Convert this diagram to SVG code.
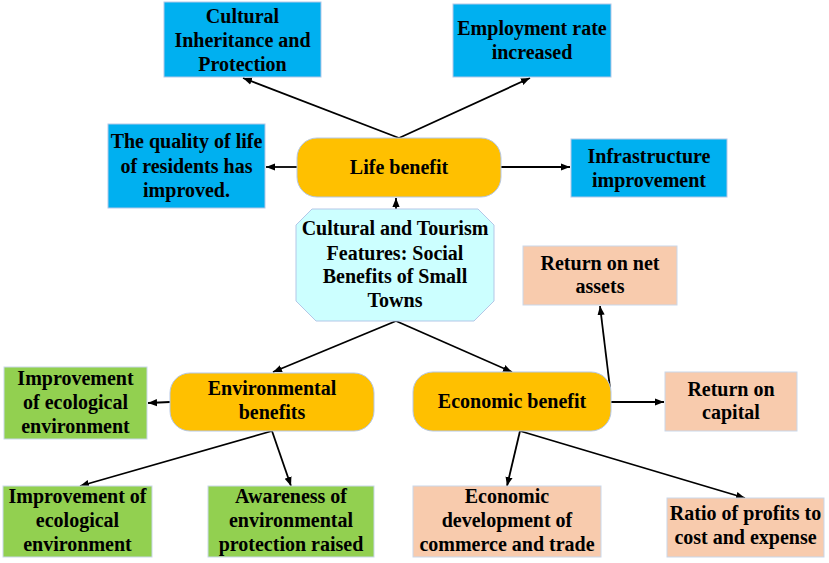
<svg xmlns="http://www.w3.org/2000/svg" width="829" height="563" viewBox="0 0 829 563">
<defs>
<style>
.t{font-family:"Liberation Serif","Times New Roman",serif;font-weight:bold;font-size:20px;fill:#000;text-anchor:middle}
.blue{fill:#00B0F0;stroke:#B4C7E7;stroke-width:1}
.gold{fill:#FFC000;stroke:#B4C7E7;stroke-width:1}
.cyan{fill:#CCFFFF;stroke:#B4C7E7;stroke-width:1}
.green{fill:#92D050;stroke:#C9D7EA;stroke-width:1}
.peach{fill:#F8CBAD;stroke:#C9D7EA;stroke-width:1}
.c{stroke:#000;stroke-width:1.8;fill:none;marker-end:url(#ah)}
</style>
<marker id="ah" viewBox="0 0 10 10" refX="10" refY="5" markerWidth="5" markerHeight="5" orient="auto" markerUnits="strokeWidth">
<path d="M0,1 L10,5 L0,9 z" fill="#000"/>
</marker>
</defs>
<rect width="829" height="563" fill="#fff"/>

<g id="connectors">
<line class="c" x1="399" y1="138" x2="243" y2="78"/>
<line class="c" x1="399" y1="138" x2="530" y2="78"/>
<line class="c" x1="297" y1="167" x2="266" y2="167"/>
<line class="c" x1="501" y1="167" x2="570" y2="167"/>
<line class="c" x1="396" y1="209" x2="396" y2="198"/>
<line class="c" x1="396" y1="321" x2="273" y2="372"/>
<line class="c" x1="396" y1="321" x2="512" y2="372"/>
<line class="c" x1="170" y1="402" x2="148" y2="403"/>
<line class="c" x1="272" y1="431" x2="80" y2="486"/>
<line class="c" x1="272" y1="431" x2="291" y2="486"/>
<line class="c" x1="611" y1="402" x2="664" y2="402"/>
<line class="c" x1="610" y1="388" x2="600" y2="306"/>
<line class="c" x1="520" y1="431" x2="507" y2="486"/>
<line class="c" x1="520" y1="431" x2="745" y2="498"/>
</g>

<g id="cultural-inheritance">
<rect class="blue" x="164" y="2" width="157" height="75"/>
<text class="t" x="242.5" y="23">Cultural</text>
<text class="t" x="242.5" y="47">Inheritance and</text>
<text class="t" x="242.5" y="71">Protection</text>
</g>

<g id="employment">
<rect class="blue" x="453" y="4" width="158" height="73"/>
<text class="t" x="532" y="35">Employment rate</text>
<text class="t" x="532" y="59">increased</text>
</g>

<g id="quality-of-life">
<rect class="blue" x="108" y="124" width="157" height="84"/>
<text class="t" x="186.5" y="148">The quality of life</text>
<text class="t" x="186.5" y="173">of residents has</text>
<text class="t" x="186.5" y="197">improved.</text>
</g>

<g id="life-benefit">
<rect class="gold" x="297" y="138" width="204" height="59" rx="20" ry="20"/>
<text class="t" x="399" y="174">Life benefit</text>
</g>

<g id="infrastructure">
<rect class="blue" x="571" y="139" width="156" height="58"/>
<text class="t" x="649" y="163">Infrastructure</text>
<text class="t" x="649" y="187">improvement</text>
</g>

<g id="core">
<polygon class="cyan" points="312,209 478,209 494,225 494,301 474,321 316,321 296,301 296,225"/>
<text class="t" x="395" y="235">Cultural and Tourism</text>
<text class="t" x="395" y="260">Features: Social</text>
<text class="t" x="395" y="283">Benefits of Small</text>
<text class="t" x="395" y="307">Towns</text>
</g>

<g id="net-assets">
<rect class="peach" x="523" y="246" width="154" height="59"/>
<text class="t" x="600" y="270">Return on net</text>
<text class="t" x="600" y="293">assets</text>
</g>

<g id="environmental-benefits">
<rect class="gold" x="170" y="373" width="204" height="58" rx="20" ry="20"/>
<text class="t" x="272" y="395">Environmental</text>
<text class="t" x="272" y="419">benefits</text>
</g>

<g id="economic-benefit">
<rect class="gold" x="413" y="372" width="198" height="59" rx="20" ry="20"/>
<text class="t" x="512" y="408">Economic benefit</text>
</g>

<g id="return-on-capital">
<rect class="peach" x="665" y="372" width="132" height="59"/>
<text class="t" x="731" y="396">Return on</text>
<text class="t" x="731" y="419">capital</text>
</g>

<g id="eco-env-1">
<rect class="green" x="4" y="367" width="143" height="72"/>
<text class="t" x="75.5" y="385">Improvement</text>
<text class="t" x="75.5" y="409">of ecological</text>
<text class="t" x="75.5" y="433">environment</text>
</g>

<g id="eco-env-2">
<rect class="green" x="3" y="486" width="149" height="71"/>
<text class="t" x="77.5" y="503">Improvement of</text>
<text class="t" x="77.5" y="527">ecological</text>
<text class="t" x="77.5" y="551">environment</text>
</g>

<g id="awareness">
<rect class="green" x="208" y="486" width="166" height="71"/>
<text class="t" x="291" y="503">Awareness of</text>
<text class="t" x="291" y="527">environmental</text>
<text class="t" x="291" y="551">protection raised</text>
</g>

<g id="commerce-trade">
<rect class="peach" x="413" y="486" width="188" height="71"/>
<text class="t" x="507" y="503">Economic</text>
<text class="t" x="507" y="527">development of</text>
<text class="t" x="507" y="551">commerce and trade</text>
</g>

<g id="profit-ratio">
<rect class="peach" x="667" y="498" width="157" height="59"/>
<text class="t" x="745.5" y="520">Ratio of profits to</text>
<text class="t" x="745.5" y="544">cost and expense</text>
</g>
</svg>
